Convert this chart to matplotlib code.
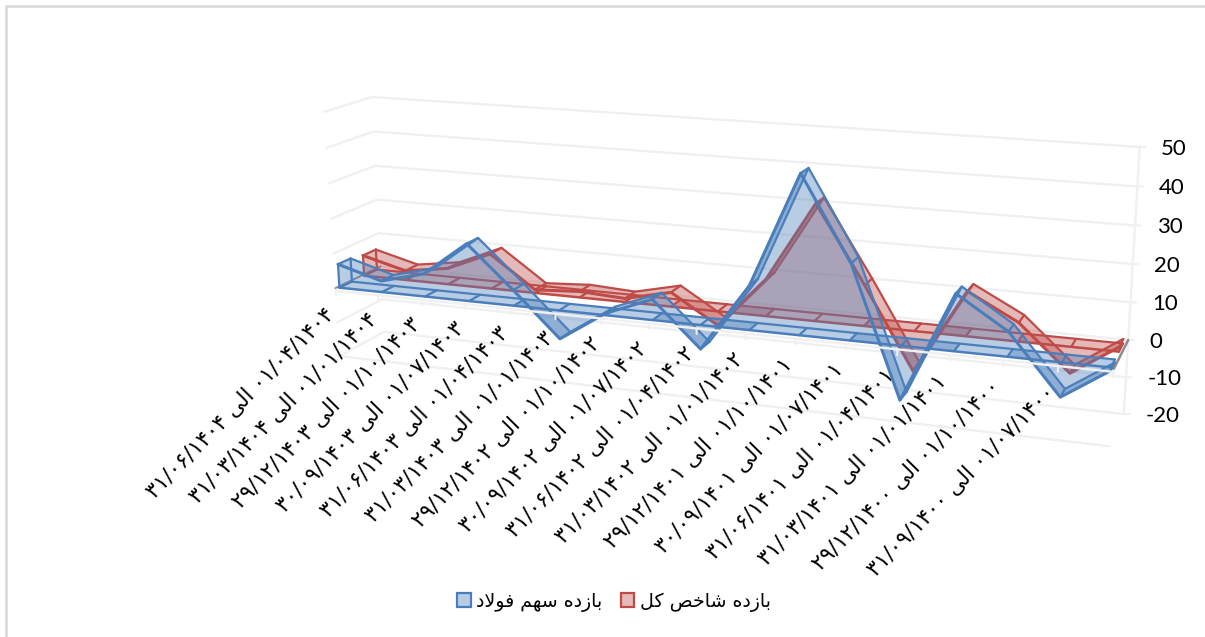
# 3D area chart, drawn on a flat axes through a fitted camera matrix
import numpy as np
import matplotlib
matplotlib.use('Agg')
import matplotlib.pyplot as plt
from matplotlib.patches import Patch

# values per quarter, newest first (17 points, the oldest has no label)
steel_values = [6.8, 3.2, 6.5, 16.2, 4.4, -8, 0.5, 5.7, -6.6, 12, 42.5, 20.3, -14.5, 15, 6.5, -9, -0.8]
index_values = [6, 2.7, 4.6, 10, 0.9, 1.7, 1.0, 4, -4, 10.2, 31.8, 11, -11, 12, 5, -7, 1.2]
value_ticks = [50, 40, 30, 20, 10, 0, -10, -20]

date_from = ['۰۱/۰۴/۱۴۰۴', '۰۱/۰۱/۱۴۰۴', '۰۱/۱۰/۱۴۰۳', '۰۱/۰۷/۱۴۰۳', '۰۱/۰۴/۱۴۰۳', '۰۱/۰۱/۱۴۰۳',
             '۰۱/۱۰/۱۴۰۲', '۰۱/۰۷/۱۴۰۲', '۰۱/۰۴/۱۴۰۲', '۰۱/۰۱/۱۴۰۲', '۰۱/۱۰/۱۴۰۱', '۰۱/۰۷/۱۴۰۱',
             '۰۱/۰۴/۱۴۰۱', '۰۱/۰۱/۱۴۰۱', '۰۱/۱۰/۱۴۰۰', '۰۱/۰۷/۱۴۰۰']
date_to = ['۳۱/۰۶/۱۴۰۴', '۳۱/۰۳/۱۴۰۴', '۲۹/۱۲/۱۴۰۳', '۳۰/۰۹/۱۴۰۳', '۳۱/۰۶/۱۴۰۳', '۳۱/۰۳/۱۴۰۳',
           '۲۹/۱۲/۱۴۰۲', '۳۰/۰۹/۱۴۰۲', '۳۱/۰۶/۱۴۰۲', '۳۱/۰۳/۱۴۰۲', '۲۹/۱۲/۱۴۰۱', '۳۰/۰۹/۱۴۰۱',
           '۳۱/۰۶/۱۴۰۱', '۳۱/۰۳/۱۴۰۱', '۲۹/۱۲/۱۴۰۰', '۳۱/۰۹/۱۴۰۰']

# matplotlib does no arabic shaping, so joined forms in drawing order
ela = '\ufbfd\ufedf\ufe8d'  # الی
steel_name = '\ufe91\ufe8e\ufeaf\ufea9\ufee9 \ufeb3\ufeec\ufee2 \ufed3\ufeee\ufefb\ufea9'[::-1]  # بازده سهم فولاد
index_name = '\ufe91\ufe8e\ufeaf\ufea9\ufee9 \ufeb7\ufe8e\ufea7\ufeba \ufb90\ufede'[::-1]  # بازده شاخص کل

BLUE = '#4A7EBB'
RED = '#BE4B48'
BLUE_FILL = (79/255, 129/255, 189/255, 0.4)
RED_FILL = (192/255, 80/255, 77/255, 0.4)
GRID = '#F0F0F0'

# camera: (category, value, depth) -> pixel, fitted on the corners of the box
n = len(steel_values) - 1
corners = [(0, 50, 1, 373, 97), (0, 0, 1, 380, 267), (0, -20, 1, 383, 332),
           (n, 50, 1, 1140, 147), (n, 0, 1, 1128, 340), (n, -20, 1, 1124, 413),
           (0, 50, 0, 323, 112), (0, 0, 0, 337, 286), (0, -20, 0, 340, 357),
           (n, 0, 0, 1113, 369), (n, -20, 0, 1110, 447)]
A, b = [], []
for c, v, d, px, py in corners:
    A.append([c, v, d, 1, 0, 0, 0, 0, -px*c, -px*v, -px*d])
    A.append([0, 0, 0, 0, c, v, d, 1, -py*c, -py*v, -py*d])
    b += [px, py]
cam = np.append(np.linalg.lstsq(np.array(A, float), np.array(b, float), rcond=None)[0], 1).reshape(3, 4)


def project(c, v, d):
    c, v, d = np.broadcast_arrays(c, v, d)
    p = np.stack([c, v, d, np.ones_like(c)]).astype(float)
    q = cam @ p
    return q[0]/q[2], q[1]/q[2]


def poly(ax, c, v, d, color, z):
    x, y = project(c, v, d)
    ax.fill(x, y, color=color, lw=0, zorder=z)


def line(ax, c, v, d, color, lw, z):
    x, y = project(c, v, d)
    ax.plot(x, y, color=color, lw=lw, zorder=z, solid_capstyle='round', solid_joinstyle='round')


def area3d(ax, values, d0, d1, fill, edge, z):
    values = np.array(values, float)
    # the series sits slightly inside the walls
    cats = np.arange(len(values)) + 0.06
    cats[-1] = n - 0.06
    line(ax, cats, values, d1, edge, 1.6, z)
    line(ax, cats, 0, d1, edge, 1.6, z)
    for i in range(len(values) - 1):
        cc = [cats[i], cats[i+1], cats[i+1], cats[i]]
        poly(ax, cc, [values[i], values[i+1], values[i+1], values[i]], [d0, d0, d1, d1], fill, z)
        # the floor band only shows by itself under negative stretches
        if min(values[i], values[i+1]) < 0:
            poly(ax, cc, 0, [d0, d0, d1, d1], fill, z)
    poly(ax, np.r_[cats, cats[::-1]], np.r_[values, np.zeros(len(values))], d0, fill, z+1)
    for i in range(len(values)):
        line(ax, cats[i], [values[i], values[i]], [d0, d1], edge, 1.6, z+1)
        line(ax, cats[i], [0, 0], [d0, d1], edge, 1.6, z+1)
    line(ax, [cats[0], cats[0]], [0, values[0]], d0, edge, 1.6, z+1)
    line(ax, [cats[0], cats[0]], [0, values[0]], d1, edge, 1.6, z+1)
    line(ax, cats, 0, d0, edge, 1.8, z+1)
    line(ax, cats, values, d0, edge, 2.2, z+1)


fig = plt.figure(figsize=(12.05, 6.37), dpi=100)
ax = fig.add_axes([0, 0, 1, 1])
ax.set_xlim(0, 1205)
ax.set_ylim(637, 0)
ax.axis('off')

# chart frame
ax.plot([6, 6, 1205], [637, 6, 6], color='#DCDCDC', lw=2, zorder=0)

# walls
for v in value_ticks:
    x, y = project([0, 0, n], v, [0, 1, 1])
    ax.plot(np.r_[x, x[-1]+5], np.r_[y, y[-1]], color=GRID, lw=1.7, zorder=1)
line(ax, [n, n], [50, -20], 1, GRID, 1.7, 1)
line(ax, [0, n], -20, 0, GRID, 1.7, 1)

# depth axis ends
line(ax, [0, 0], 0, [0, 1], '#8C8C8C', 1.3, 2)
line(ax, [n, n], 0, [0, 1], '#8C8C8C', 1.8, 2)

area3d(ax, index_values, 0.57, 0.86, RED_FILL, RED, 3)
area3d(ax, steel_values, 0.03, 0.30, BLUE_FILL, BLUE, 6)

# category axis with its ticks
line(ax, [0, n], -0.8, 0, GRID, 1.7, 9)
for i in range(n + 1):
    line(ax, [i, i], [-0.8, -2.3], 0, GRID, 1.5, 9)

for v in value_ticks:
    x, y = project(n, v, 1)
    ax.text(x + 21.5, y, str(v), ha='left', va='center_baseline', fontsize=16, family='Lato', color='black')

for i in range(len(date_from)):
    x, y = project(i, -6.7, 0)
    ax.text(x - 6, y, date_to[i] + ' ' + ela + ' ' + date_from[i], rotation=45.5, rotation_mode='anchor',
            ha='right', va='center', fontsize=15.5, family='DejaVu Sans', color='black')

handles = [Patch(facecolor=BLUE_FILL, edgecolor=BLUE, lw=1.6), Patch(facecolor=RED_FILL, edgecolor=RED, lw=1.6)]
ax.legend(handles, [steel_name, index_name], ncol=2, frameon=False, loc='center', bbox_to_anchor=(614, 601.5),
          bbox_transform=ax.transData, handlelength=0.72, handleheight=0.72,
          handletextpad=0.3, columnspacing=0.95, prop={'family': 'DejaVu Sans', 'size': 13.7})

fig.savefig('out.png', dpi=100)
